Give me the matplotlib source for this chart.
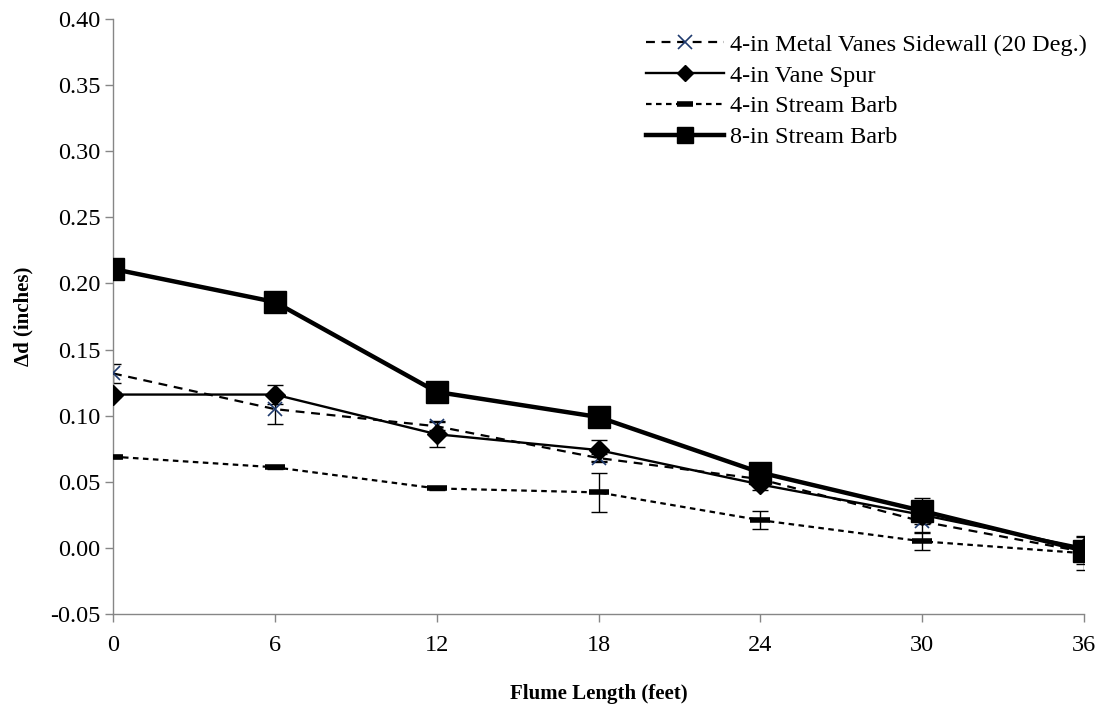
import matplotlib
matplotlib.use("Agg")
import matplotlib.pyplot as plt
from matplotlib.ticker import FuncFormatter, MultipleLocator

plt.rcParams["font.family"] = ["Liberation Serif", "DejaVu Serif"]
plt.rcParams["axes.unicode_minus"] = False

# ─── DATA ───────────────────────────────────────────────────────────────────

flume_ft = [0, 6, 12, 18, 24, 30, 36]

metal_vanes = [0.132, 0.105, 0.092, 0.068, 0.052, 0.020, -0.003]
metal_vanes_err = [0.007, 0.011, 0.003, 0.003, 0.003, 0.008, 0.003]

vane_spur = [0.116, 0.116, 0.086, 0.074, 0.048, 0.025, 0.000]
vane_spur_err = [0.002, 0.007, 0.010, 0.008, 0.004, 0.005, 0.003]

barb_4in = [0.069, 0.061, 0.045, 0.042, 0.021, 0.005, -0.004]
barb_4in_err = [0.001, 0.001, 0.001, 0.0145, 0.007, 0.0065, 0.013]

barb_8in = [0.211, 0.186, 0.118, 0.099, 0.057, 0.028, -0.002]
barb_8in_err = [0.002, 0.002, 0.002, 0.002, 0.003, 0.010, 0.010]

LABELS = ["4-in Metal Vanes Sidewall (20 Deg.)", "4-in Vane Spur",
          "4-in Stream Barb", "8-in Stream Barb"]

# ─── PLOT ───────────────────────────────────────────────────────────────────

fig = plt.figure(figsize=(10.99, 7.05), dpi=100)
ax = fig.add_axes([0.1028, 0.129, 0.8836, 0.844])

# error bars drawn on their own so the caps stay thin
for ys, errs in [(metal_vanes, metal_vanes_err), (vane_spur, vane_spur_err),
                 (barb_4in, barb_4in_err), (barb_8in, barb_8in_err)]:
    ax.errorbar(flume_ft, ys, yerr=errs, fmt="none", ecolor="black",
                elinewidth=1.0, capsize=6, capthick=1.0, zorder=2)

ax.plot(flume_ft, metal_vanes, color="black", linestyle=(0, (4, 3)),
        linewidth=1.6, marker="x", markersize=10, markeredgecolor="#1f3a6e",
        markeredgewidth=1.2, label=LABELS[0], zorder=3)
ax.plot(flume_ft, vane_spur, color="black", linestyle="-", linewidth=1.7,
        marker="D", markersize=10, label=LABELS[1], zorder=4)
ax.plot(flume_ft, barb_4in, color="black", linestyle=(0, (2.5, 2)),
        linewidth=1.6, marker="_", markersize=15, markeredgewidth=4,
        label=LABELS[2], zorder=3)
ax.plot(flume_ft, barb_8in, color="black", linestyle="-", linewidth=3.2,
        marker="s", markersize=16, label=LABELS[3], zorder=5)

ax.set_xlim(0, 36)
ax.set_ylim(-0.05, 0.40)
ax.xaxis.set_major_locator(MultipleLocator(6))
ax.yaxis.set_major_locator(MultipleLocator(0.05))
ax.yaxis.set_major_formatter(FuncFormatter(lambda v, _: f"{v:.2f}"))

for side in ("top", "right"):
    ax.spines[side].set_visible(False)
for side in ("left", "bottom"):
    ax.spines[side].set_color("#868686")
    ax.spines[side].set_linewidth(1.0)
ax.tick_params(axis="both", direction="out", length=6, width=1.0,
               color="#868686", labelsize=17.5)
ax.tick_params(axis="x", pad=9)
ax.tick_params(axis="y", pad=3)

ax.set_xlabel("Flume Length (feet)", fontsize=15, fontweight="bold", labelpad=20)
ax.set_ylabel("Δd (inches)", fontsize=15, fontweight="bold", labelpad=12)

handles, labels = ax.get_legend_handles_labels()
leg = ax.legend(handles, labels, loc="upper right", bbox_to_anchor=(1.025, 1.012),
                frameon=False, fontsize=17.5, handlelength=3.2,
                handletextpad=0.25, labelspacing=0.36)
for h in leg.legend_handles:
    if h.get_marker() == "s":
        h.set_markersize(12)
    elif h.get_marker() == "D":
        h.set_markersize(8)
    elif h.get_marker() == "_":
        h.set_markersize(12)

fig.savefig("out.png", dpi=100)
